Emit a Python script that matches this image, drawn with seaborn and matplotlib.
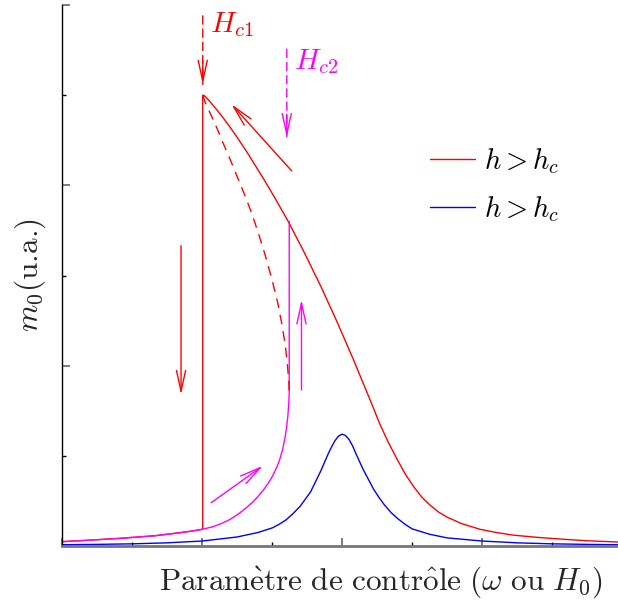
import matplotlib
matplotlib.use("Agg")
import matplotlib.pyplot as plt
import seaborn as sns
from matplotlib.ticker import MultipleLocator
from matplotlib.patches import ArrowStyle

# ---------------- data ----------------
# red: lower branch -> jump at Hc1 -> upper branch
red_x = [0.0, 0.4, 0.85, 1.33, 1.71, 1.85, 2.01, 2.01, 2.03, 2.06, 2.10, 2.16, 2.23,
         2.30, 2.40, 2.52, 2.64, 2.76, 2.88, 3.04, 3.23, 3.45, 3.69, 3.92, 4.16,
         4.40, 4.54, 4.66, 4.78, 4.90, 5.02, 5.14, 5.26, 5.38, 5.50, 5.70, 5.97,
         6.20, 6.45, 6.80, 7.16, 7.50, 7.94]
red_y = [0.048, 0.065, 0.086, 0.114, 0.150, 0.165, 0.186, 5.00, 4.995, 4.975, 4.94, 4.885, 4.82,
         4.75, 4.645, 4.51, 4.37, 4.22, 4.07, 3.86, 3.60, 3.27, 2.89, 2.50, 2.07,
         1.62, 1.35, 1.15, 0.97, 0.80, 0.66, 0.54, 0.45, 0.375, 0.32, 0.25, 0.185,
         0.15, 0.12, 0.095, 0.075, 0.058, 0.044]

# red dashed: unstable branch
dash_x = [2.01, 2.04, 2.08, 2.14, 2.22, 2.30, 2.40, 2.50, 2.60, 2.70, 2.80, 2.90,
          3.00, 3.08, 3.14, 3.19, 3.22, 3.24, 3.245]
dash_y = [5.00, 4.93, 4.86, 4.76, 4.62, 4.47, 4.29, 4.10, 3.91, 3.71, 3.48, 3.23,
          2.95, 2.70, 2.46, 2.22, 2.00, 1.82, 1.70]

# magenta: lower branch up to Hc2, then jump to upper branch
mag_x = [0.0, 0.4, 0.85, 1.33, 1.71, 1.85, 2.01, 2.16, 2.28, 2.40, 2.52, 2.64, 2.72,
         2.80, 2.88, 2.95, 3.01, 3.07, 3.11, 3.15, 3.18, 3.205, 3.225, 3.238,
         3.245, 3.245]
mag_y = [0.048, 0.065, 0.086, 0.114, 0.150, 0.165, 0.186, 0.215, 0.25, 0.295, 0.355, 0.43, 0.485,
         0.55, 0.625, 0.70, 0.78, 0.88, 0.96, 1.07, 1.18, 1.30, 1.44, 1.57,
         1.70, 3.60]

# blue: linear resonance
blue_x = [0.0, 0.5, 1.0, 1.5, 2.0, 2.5, 2.8, 3.0, 3.1, 3.2, 3.3, 3.4, 3.475, 3.55,
          3.625, 3.7, 3.75, 3.8, 3.85, 3.9, 3.95, 4.0, 4.05, 4.1, 4.15, 4.2, 4.25,
          4.3, 4.375, 4.45, 4.525, 4.6, 4.7, 4.8, 4.9, 5.0, 5.25, 5.5, 6.0, 6.5,
          7.0, 7.5, 7.94]
blue_y = [0.014, 0.018, 0.024, 0.035, 0.055, 0.10, 0.15, 0.20, 0.24, 0.29, 0.36, 0.44, 0.52, 0.60,
          0.72, 0.84, 0.93, 1.02, 1.10, 1.17, 1.22, 1.24, 1.225, 1.18, 1.11, 1.02, 0.935,
          0.85, 0.74, 0.63, 0.54, 0.46, 0.37, 0.30, 0.24, 0.19, 0.13, 0.09, 0.055, 0.035,
          0.024, 0.018, 0.014]

legend_labels = [r"$h > h_c$", r"$h > h_c$"]
xlabel = r"$\mathrm{Param\`etre\ de\ contr\^ole\ (}\omega\mathrm{\ ou\ }H_0\mathrm{)}$"
ylabel = r"$m_0$(u.a.)"

RED, BLUE, MAG = "#ff0000", "#0000ff", "#ff00ff"

# ---------------- style ----------------
sns.set_theme(style="ticks")
plt.rcParams.update({
    "mathtext.fontset": "cm",
    "font.family": ["DejaVu Serif"],
    "axes.unicode_minus": False,
})

fig = plt.figure(figsize=(6.18, 6.05), dpi=100)
ax = fig.add_axes([62 / 618, 59 / 605, 556 / 618, 541 / 605])

sns.lineplot(x=red_x, y=red_y, sort=False, estimator=None, color=RED, lw=1.0,
             ax=ax, label=legend_labels[0])
sns.lineplot(x=blue_x, y=blue_y, sort=False, estimator=None, color=BLUE, lw=1.0,
             ax=ax, label=legend_labels[1])
sns.lineplot(x=mag_x, y=mag_y, sort=False, estimator=None, color=MAG, lw=1.0,
             ax=ax, label="_nolegend_")
sns.lineplot(x=dash_x, y=dash_y, sort=False, estimator=None, color=RED, lw=1.0,
             ax=ax, label="_nolegend_")
ax.lines[-1].set_dashes((7, 5))

ax.set_xlim(0, 7.94)
ax.set_ylim(0, 6)

for s in ("top", "right"):
    ax.spines[s].set_visible(False)
ax.spines["left"].set_color("black")
ax.spines["left"].set_linewidth(1.0)
ax.spines["bottom"].set_color("#777777")
ax.spines["bottom"].set_linewidth(2.0)

ax.xaxis.set_major_locator(MultipleLocator(2))
ax.xaxis.set_minor_locator(MultipleLocator(1))
ax.yaxis.set_major_locator(MultipleLocator(2))
ax.yaxis.set_minor_locator(MultipleLocator(1))
ax.tick_params(which="major", direction="in", length=6, width=1.2, color="#666666",
               labelbottom=False, labelleft=False)
ax.tick_params(which="minor", direction="in", length=3, width=1.0, color="black",
               labelbottom=False, labelleft=False)

ax.set_xlabel(xlabel, fontsize=22.5, x=0.574, labelpad=13)
ax.set_ylabel(ylabel, fontsize=22.5, labelpad=10, family=["cmr10"])

# ---------------- arrows & annotations ----------------
head = ArrowStyle("->", head_length=1.5, head_width=0.33)


def arrow(start, tip, color, dashed=False):
    if dashed:
        ax.annotate("", xy=tip, xytext=start,
                    arrowprops=dict(arrowstyle="-", color=color, lw=1.0,
                                    linestyle=(0, (6, 3.5)), shrinkA=0, shrinkB=0))
        hs = (tip[0], tip[1] + 0.26)
        ax.annotate("", xy=tip, xytext=hs,
                    arrowprops=dict(arrowstyle=head, color=color, lw=1.0,
                                    mutation_scale=10, shrinkA=0, shrinkB=0))
    else:
        ax.annotate("", xy=tip, xytext=start,
                    arrowprops=dict(arrowstyle=head, color=color, lw=1.0,
                                    mutation_scale=10, shrinkA=0, shrinkB=0))


arrow((2.01, 5.88), (2.01, 5.12), RED, dashed=True)
arrow((3.21, 5.51), (3.21, 4.53), MAG, dashed=True)
arrow((3.28, 4.16), (2.42, 4.90), RED)
arrow((1.70, 3.33), (1.70, 1.68), RED)
arrow((3.42, 1.73), (3.42, 2.73), MAG)
arrow((2.13, 0.48), (2.87, 0.89), MAG)

ax.text(2.12, 5.70, r"$H_{c1}$", color=RED, fontsize=21, va="baseline", ha="left")
ax.text(3.31, 5.29, r"$H_{c2}$", color=MAG, fontsize=21, va="baseline", ha="left")

leg = ax.legend(loc="upper left", bbox_to_anchor=(0.636, 0.766), frameon=False,
                fontsize=20.5, handlelength=1.58, handletextpad=0.31, labelspacing=0.65,
                borderpad=0)
for t in leg.get_texts():
    t.set_color("black")

fig.savefig("out.png", dpi=100)
